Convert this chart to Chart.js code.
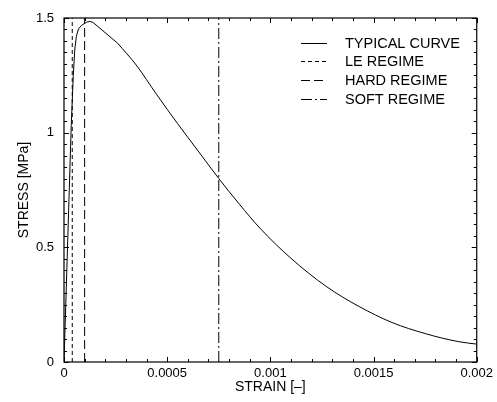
<!DOCTYPE html>
<html><head><meta charset="utf-8">
<script src="https://cdn.jsdelivr.net/npm/chart.js@4"></script>
<style>html,body{margin:0;padding:0;background:#fff}#wrap{width:497px;height:402px}</style>
</head><body><div id="wrap"><canvas id="c" width="497" height="402"></canvas></div>
<script>
// ---- data ----
const strain = [0, 0.000035, 0.000045, 0.000052, 0.00006, 0.00007, 0.000085, 0.00011, 0.000125, 0.00014,
  0.00026, 0.00035, 0.00045, 0.00055, 0.00065, 0.00075, 0.00085, 0.00095, 0.0011, 0.00127,
  0.00143, 0.00159, 0.00175, 0.00191, 0.002];
const stress = [0, 1.03, 1.25, 1.36, 1.42, 1.452, 1.468, 1.482, 1.485, 1.481,
  1.39, 1.295, 1.165, 1.04, 0.92, 0.80, 0.688, 0.583, 0.452, 0.330,
  0.242, 0.172, 0.124, 0.089, 0.078];
const kinkIndex = 10; // softening kink at strain 0.00026; smooth curve after it
const leStrain = 0.00004;
const hardStrain = 0.0001;
const softStrain = 0.00075;
const seriesLabels = ['TYPICAL CURVE', 'LE REGIME', 'HARD REGIME', 'SOFT REGIME'];
const xTicks = [0, 0.0005, 0.001, 0.0015, 0.002];
const yTicks = [0, 0.5, 1, 1.5];
const xTickLabels = ['0', '0.0005', '0.001', '0.0015', '0.002'];
const yTickLabels = ['0', '0.5', '1', '1.5'];
const xMinorStep = 0.0001, yMinorStep = 0.05;
const xRange = [0, 0.002], yRange = [0, 1.5];

const FONT = '"Liberation Sans", Arial, Helvetica, sans-serif';

function vline(x){ return [{x:x, y:yRange[0]}, {x:x, y:yRange[1]}]; }
const curvePts = strain.map((s,i)=>({x:s, y:stress[i]}));

const datasets = [
  {label: seriesLabels[0], data: curvePts.slice(0, kinkIndex + 1), borderDash: []},
  {label: seriesLabels[1], data: vline(leStrain), borderDash: [4,3]},
  {label: seriesLabels[2], data: vline(hardStrain), borderDash: [9,4]},
  {label: seriesLabels[3], data: vline(softStrain), borderDash: [11,3,2,3]},
  {label: seriesLabels[0], data: curvePts.slice(kinkIndex), borderDash: [], cubicInterpolationMode: 'monotone', noLegend: true}
].map(d => Object.assign({showLine:true, borderColor:'#000', borderWidth:1, pointRadius:0, tension:0, fill:false}, d));

const boxPlugin = {
  id: 'box',
  afterDatasetsDraw(chart){
    const {ctx, chartArea:a, scales} = chart;
    const xs = scales.x, ys = scales.y;
    ctx.save();
    ctx.strokeStyle = '#000';
    ctx.lineWidth = 1.2;
    ctx.setLineDash([]);
    ctx.strokeRect(a.left, a.top, a.right - a.left, a.bottom - a.top);
    ctx.lineWidth = 1;
    ctx.beginPath();
    const nx = Math.round((xRange[1]-xRange[0])/xMinorStep);
    for (let i=0;i<=nx;i++){
      const v = xRange[0] + i*xMinorStep;
      const px = Math.round(xs.getPixelForValue(v)) + 0.5;
      const len = (i%5===0) ? 5 : 3;
      ctx.moveTo(px, a.bottom); ctx.lineTo(px, a.bottom - len);
      ctx.moveTo(px, a.top); ctx.lineTo(px, a.top + len);
    }
    const ny = Math.round((yRange[1]-yRange[0])/yMinorStep);
    for (let i=0;i<=ny;i++){
      const v = yRange[0] + i*yMinorStep;
      const py = Math.round(ys.getPixelForValue(v)) + 0.5;
      const len = (i%10===0) ? 5 : 3;
      ctx.moveTo(a.left, py); ctx.lineTo(a.left + len, py);
      ctx.moveTo(a.right, py); ctx.lineTo(a.right - len, py);
    }
    ctx.stroke();
    // legend inside the plot
    const x0 = 301, x1 = 327, tx = 345, y0 = 42.5, dy = 18.7;
    ctx.font = '14.5px ' + FONT;
    ctx.fillStyle = '#000';
    ctx.textBaseline = 'middle';
    ctx.textAlign = 'left';
    chart.data.datasets.filter(d => !d.noLegend).forEach((d, i) => {
      const yy = Math.round(y0 + i*dy) + 0.5;
      ctx.setLineDash(d.borderDash);
      ctx.beginPath(); ctx.moveTo(x0, yy); ctx.lineTo(x1, yy); ctx.stroke();
      ctx.fillText(d.label, tx, yy);
    });
    ctx.restore();
  }
};

new Chart(document.getElementById('c'), {
  type: 'scatter',
  data: {datasets},
  options: {
    responsive: false,
    devicePixelRatio: 1,
    animation: false,
    layout: {padding: {left: 0, top: 18, right: 18, bottom: 0}},
    plugins: {legend: {display: false}, tooltip: {enabled: false}},
    scales: {
      x: {
        type: 'linear', min: xRange[0], max: xRange[1],
        afterBuildTicks: s => { s.ticks = xTicks.map(v => ({value: v})); },
        afterFit: s => { s.height = 40; },
        grid: {display: false, drawTicks: false},
        border: {display: false},
        ticks: {padding: 4, color: '#000', font: {family: FONT, size: 13},
          callback: (v) => xTickLabels[xTicks.indexOf(v)] ?? '', maxRotation: 0, autoSkip: false},
        title: {display: true, text: 'STRAIN [\u2013]', color: '#000', font: {family: FONT, size: 14, lineHeight: 1}, padding: {top: 0, bottom: 8}}
      },
      y: {
        type: 'linear', min: yRange[0], max: yRange[1],
        afterBuildTicks: s => { s.ticks = yTicks.map(v => ({value: v})); },
        afterFit: s => { s.width = 64; },
        grid: {display: false, drawTicks: false},
        border: {display: false},
        ticks: {padding: 10, color: '#000', font: {family: FONT, size: 13},
          callback: (v) => yTickLabels[yTicks.indexOf(v)] ?? '', autoSkip: false},
        title: {display: true, text: 'STRESS [MPa]', color: '#000', font: {family: FONT, size: 14, lineHeight: 1}, padding: {top: 17, bottom: 0}}
      }
    }
  },
  plugins: [boxPlugin]
});
</script>
</body></html>
